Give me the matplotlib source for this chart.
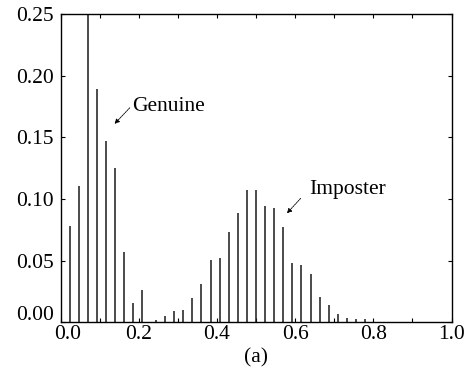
import matplotlib
matplotlib.use("Agg")
import matplotlib.pyplot as plt
import matplotlib.transforms as mtransforms
from matplotlib.ticker import MultipleLocator, FormatStrFormatter

plt.rcParams['font.family'] = ['Liberation Serif', 'DejaVu Serif']

# Genuine score distribution
genuine_x = [0.023, 0.047, 0.070, 0.093, 0.116, 0.140, 0.163, 0.186, 0.209]
genuine_y = [0.078, 0.111, 0.270, 0.189, 0.147, 0.1255, 0.057, 0.016, 0.026]

# Imposter score distribution
imposter_x = [0.244, 0.267, 0.291, 0.314, 0.337, 0.360, 0.384, 0.407, 0.430,
              0.453, 0.477, 0.500, 0.523, 0.547, 0.570, 0.593, 0.616, 0.640,
              0.663, 0.686, 0.709, 0.733, 0.756, 0.779]
imposter_y = [0.002, 0.005, 0.009, 0.0105, 0.0196, 0.031, 0.051, 0.052, 0.0736,
              0.089, 0.107, 0.107, 0.0944, 0.093, 0.077, 0.048, 0.0464, 0.039,
              0.0207, 0.014, 0.0069, 0.0034, 0.003, 0.003]

x_ticks = [0.0, 0.2, 0.4, 0.6, 0.8, 1.0]
y_ticks = [0.00, 0.05, 0.10, 0.15, 0.20, 0.25]

FS = 15.5

fig = plt.figure(figsize=(4.66, 3.73), dpi=100)
ax = fig.add_axes([0.130, 0.1354, 0.839, 0.827])

ax.vlines(genuine_x, 0, genuine_y, colors='#1a1a1a', linewidth=1.1)
ax.vlines(imposter_x, 0, imposter_y, colors='#1a1a1a', linewidth=1.1)

ax.set_xlim(0, 1.0)
ax.set_ylim(0, 0.25)
ax.set_xticks(x_ticks)
ax.set_yticks(y_ticks)
ax.xaxis.set_minor_locator(MultipleLocator(0.1))
ax.yaxis.set_major_formatter(FormatStrFormatter('%.2f'))
ax.xaxis.set_major_formatter(FormatStrFormatter('%.1f'))
ax.tick_params(axis='both', which='both', direction='in', top=True, right=True,
               labelsize=FS, width=0.8)
ax.tick_params(which='major', length=3)
ax.tick_params(which='minor', length=3)
ax.tick_params(axis='x', pad=2)
ax.tick_params(axis='y', pad=5)
for s in ax.spines.values():
    s.set_linewidth(1.0)

ax.set_xlabel('(a)', fontsize=FS, labelpad=3)

arrow_style = dict(arrowstyle='-|>', color='black', lw=0.6,
                   linestyle=(0, (2, 1)), shrinkA=0, shrinkB=0,
                   mutation_scale=7)

ax.text(0.182, 0.175, 'Genuine', fontsize=FS, va='center', ha='left')
ax.annotate('', xy=(0.138, 0.161), xytext=(0.177, 0.174), arrowprops=arrow_style)

ax.text(0.636, 0.1078, 'Imposter', fontsize=FS, va='center', ha='left')
ax.annotate('', xy=(0.579, 0.0885), xytext=(0.614, 0.1006), arrowprops=arrow_style)

fig.canvas.draw()
# nudge the corner labels apart as in the reference
ylab0 = ax.get_yticklabels()[0]
ylab0.set_transform(ylab0.get_transform() +
                    mtransforms.ScaledTranslation(0, 6.5 / 72, fig.dpi_scale_trans))
xlab0 = ax.get_xticklabels()[0]
xlab0.set_transform(xlab0.get_transform() +
                    mtransforms.ScaledTranslation(5 / 72, 0, fig.dpi_scale_trans))

fig.savefig('out.png', dpi=100)
